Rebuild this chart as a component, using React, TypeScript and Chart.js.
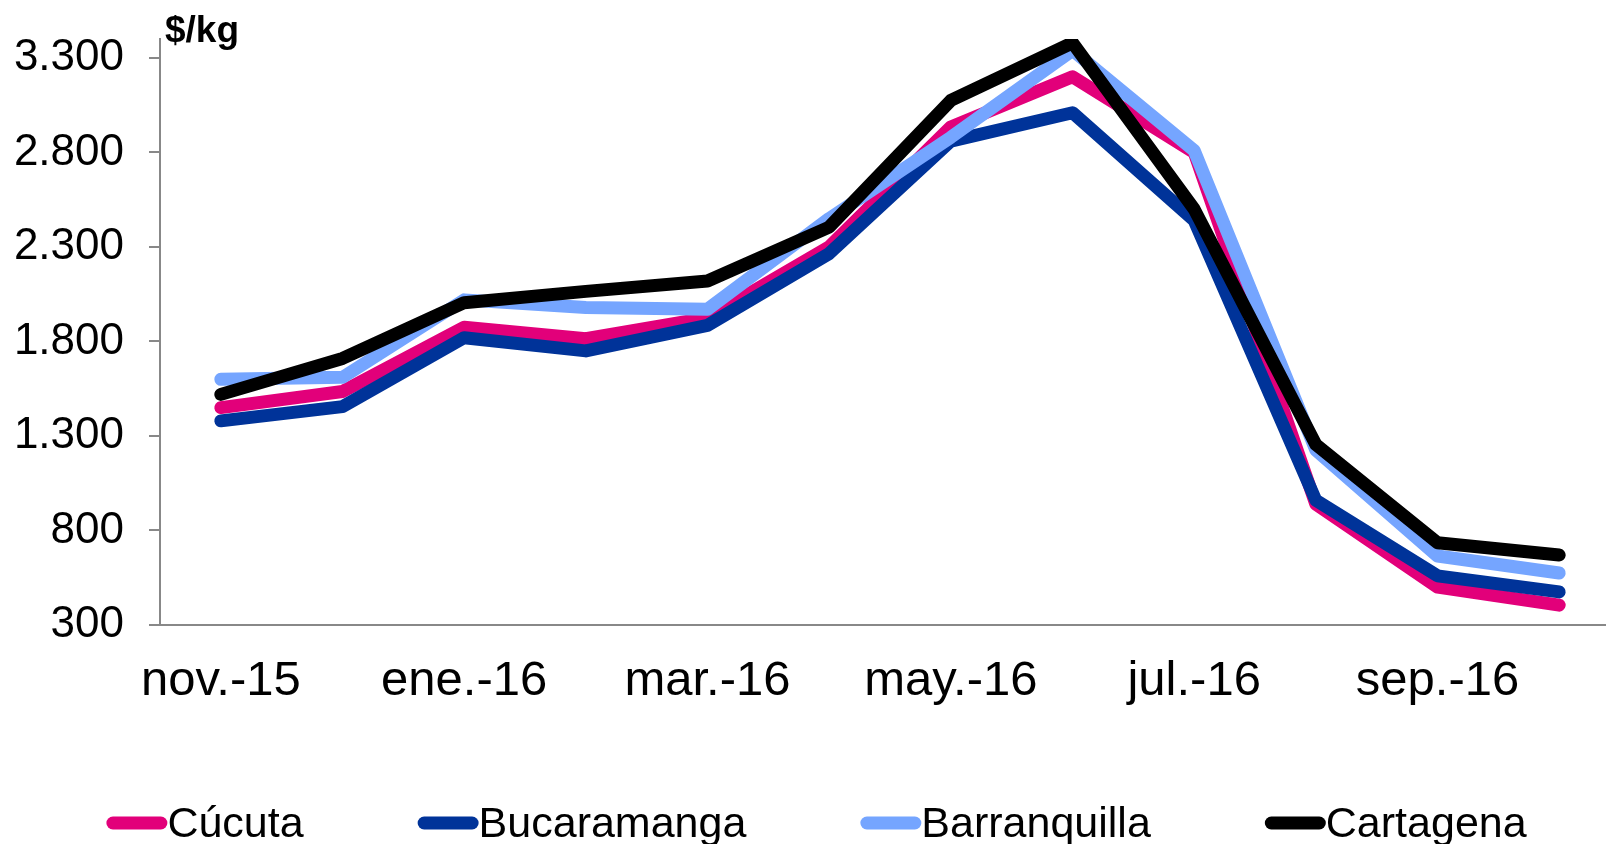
import React, { useEffect, useRef } from "react";
import { Chart, registerables } from "chart.js";

Chart.register(...registerables);

const categories = [
  "nov.-15", "dic.-15", "ene.-16", "feb.-16", "mar.-16", "abr.-16",
  "may.-16", "jun.-16", "jul.-16", "ago.-16", "sep.-16", "oct.-16",
];
const cucuta = [1450, 1535, 1875, 1815, 1925, 2300, 2935, 3200, 2800, 940, 500, 405];
const bucaramanga = [1380, 1455, 1820, 1750, 1885, 2265, 2860, 3010, 2440, 960, 560, 475];
const barranquilla = [1600, 1610, 2020, 1980, 1970, 2450, 2880, 3340, 2810, 1225, 665, 575];
const cartagena = [1520, 1710, 2005, 2065, 2120, 2405, 3075, 3380, 2500, 1255, 735, 670];
const seriesNames = ["Cúcuta", "Bucaramanga", "Barranquilla", "Cartagena"];
const yTickValues = [300, 800, 1300, 1800, 2300, 2800, 3300];
const unitLabel = "$/kg";

const seriesColors = ["#E2007A", "#003399", "#75A5FF", "#000000"];
const FONT = "'Liberation Sans', Arial, sans-serif";
const CANVAS_W = 1633;
const CANVAS_H = 844;

function fmt(v: number): string {
  return String(v).replace(/\B(?=(\d{3})+(?!\d))/g, ".");
}

const overlayPlugin = {
  id: "overlay",
  afterDraw(chart: any) {
    const ctx = chart.ctx;
    const area = chart.chartArea;
    ctx.save();
    ctx.fillStyle = "#000";
    ctx.font = `bold 37px ${FONT}`;
    ctx.textAlign = "left";
    ctx.textBaseline = "alphabetic";
    ctx.fillText(unitLabel, area.left + 5, 42);

    ctx.font = `43px ${FONT}`;
    const boxW = 61;
    const boxH = 13;
    const gap = 114;
    const widths = seriesNames.map((n) => boxW + ctx.measureText(n).width);
    const total = widths.reduce((a, b) => a + b, 0) + gap * (widths.length - 1);
    let x = chart.width / 2 - total / 2;
    const cy = 823;
    seriesNames.forEach((name, i) => {
      ctx.fillStyle = seriesColors[i];
      ctx.beginPath();
      const r = boxH / 2;
      ctx.moveTo(x + r, cy - r);
      ctx.lineTo(x + boxW - r, cy - r);
      ctx.arc(x + boxW - r, cy, r, -Math.PI / 2, Math.PI / 2);
      ctx.lineTo(x + r, cy + r);
      ctx.arc(x + r, cy, r, Math.PI / 2, (3 * Math.PI) / 2);
      ctx.closePath();
      ctx.fill();
      ctx.fillStyle = "#000";
      ctx.fillText(name, x + boxW, 837);
      x += widths[i] + gap;
    });
    ctx.restore();
  },
};

export default function App() {
  const ref = useRef<HTMLCanvasElement | null>(null);

  useEffect(() => {
    if (!ref.current) return;
    const series = [cucuta, bucaramanga, barranquilla, cartagena];
    const chart = new Chart(ref.current, {
      type: "line",
      data: {
        labels: categories,
        datasets: series.map((d, i) => ({
          label: seriesNames[i],
          data: d,
          borderColor: seriesColors[i],
          backgroundColor: seriesColors[i],
          borderWidth: 13,
          borderCapStyle: "round",
          borderJoinStyle: "round",
          pointRadius: 0,
          tension: 0,
          fill: false,
          order: series.length - i,
        })),
      },
      options: {
        responsive: false,
        animation: false,
        devicePixelRatio: 1,
        layout: { padding: { top: 39, left: 0, right: 13, bottom: 0 } },
        plugins: {
          legend: { display: false },
          tooltip: { enabled: false },
        },
        scales: {
          x: {
            type: "category",
            offset: true,
            grid: { display: false, drawTicks: false },
            border: { display: true, color: "#888888", width: 2 },
            ticks: {
              autoSkip: false,
              maxRotation: 0,
              minRotation: 0,
              padding: 27,
              color: "#000",
              font: { family: FONT, size: 49 },
              callback: (_v: any, idx: number) => (idx % 2 === 0 ? categories[idx] : ""),
            },
            afterFit: (s: any) => {
              s.height = CANVAS_H - 625;
              s.paddingLeft = 0;
              s.paddingRight = 0;
              s.paddingTop = 0;
              s.paddingBottom = 0;
            },
          },
          y: {
            min: 300,
            max: 3400,
            afterBuildTicks: (s: any) => {
              s.ticks = yTickValues.map((v) => ({ value: v }));
            },
            grid: {
              display: true,
              drawOnChartArea: false,
              drawTicks: true,
              tickLength: 11,
              color: "#888888",
              lineWidth: 2,
            },
            border: { display: true, color: "#888888", width: 2 },
            ticks: {
              padding: 25,
              color: "#000",
              font: { family: FONT, size: 44 },
              callback: (v: any) => fmt(Number(v)),
            },
            afterFit: (s: any) => {
              s.width = 160;
              s.paddingTop = 0;
              s.paddingBottom = 0;
              s.paddingLeft = 0;
              s.paddingRight = 0;
            },
          },
        },
      },
      plugins: [overlayPlugin],
    } as any);
    return () => chart.destroy();
  }, []);

  return (
    <div
      style={{
        position: "absolute",
        left: 0,
        top: 0,
        width: 1606,
        height: 844,
        overflow: "hidden",
        background: "#fff",
      }}
    >
      <canvas ref={ref} width={CANVAS_W} height={CANVAS_H} style={{ width: CANVAS_W, height: CANVAS_H, display: "block" }} />
    </div>
  );
}
